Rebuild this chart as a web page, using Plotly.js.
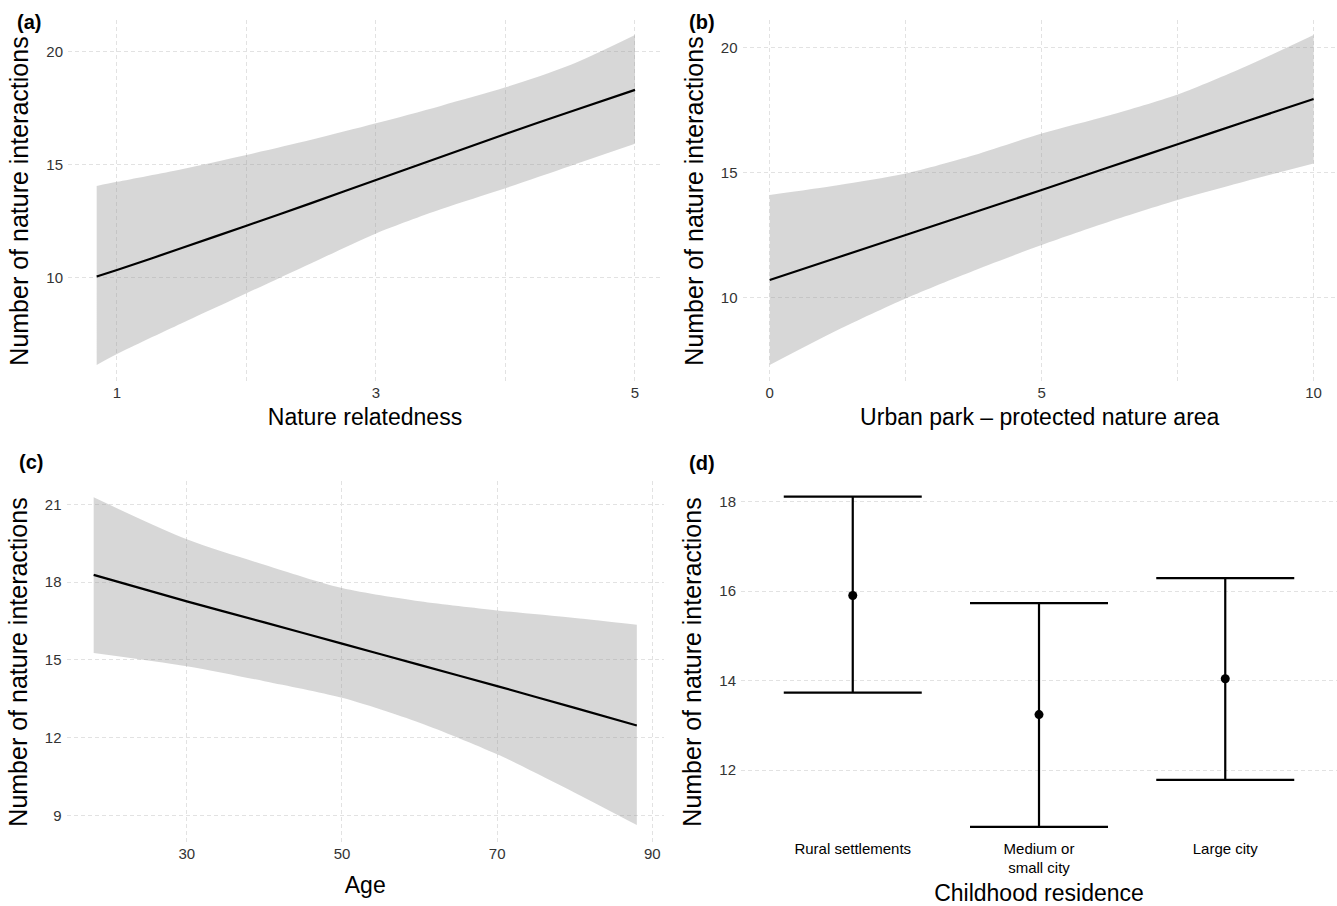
<!DOCTYPE html>
<html>
<head>
<meta charset="utf-8">
<script src="https://cdn.plot.ly/plotly-3.0.1.min.js"></script>
<style>
  html, body { margin: 0; padding: 0; background: #ffffff; }
  #chart { width: 1337px; height: 906px; }
</style>
</head>
<body>
<div id="chart"></div>
<script>
// ---------- Data ----------
// (a) Nature relatedness
const natX     = [0.843, 1, 1.5, 2, 2.5, 3, 3.5, 4, 4.5, 5];
const natFit   = [10.05, 10.34, 11.31, 12.30, 13.30, 14.32, 15.34, 16.36, 17.34, 18.31];
const natUpper = [14.06, 14.24, 14.80, 15.43, 16.10, 16.83, 17.60, 18.42, 19.41, 20.74];
const natLower = [6.14, 6.62, 7.98, 9.31, 10.64, 11.96, 13.03, 13.96, 14.94, 15.92];

// (b) Urban park - protected nature area
const parkX     = [0, 1.25, 2.5, 3.75, 5, 6.25, 7.5, 8.75, 10];
const parkFit   = [10.71, 11.61, 12.51, 13.41, 14.31, 15.23, 16.14, 17.05, 17.95];
const parkUpper = [14.11, 14.50, 14.97, 15.70, 16.57, 17.30, 18.13, 19.25, 20.51];
const parkLower = [7.31, 8.71, 9.97, 11.08, 12.11, 13.05, 13.91, 14.66, 15.37];

// (c) Age
const ageX     = [18, 30, 40, 50, 60, 70, 80, 88];
const ageFit   = [18.28, 17.26, 16.45, 15.63, 14.81, 13.99, 13.15, 12.47];
const ageUpper = [21.27, 19.65, 18.67, 17.77, 17.26, 16.91, 16.62, 16.36];
const ageLower = [15.27, 14.76, 14.18, 13.54, 12.58, 11.36, 9.88, 8.63];

// (d) Childhood residence
const resCategories = ["Rural settlements", "Medium or<br>small city", "Large city"];
const resMean  = [15.90, 13.24, 14.04];
const resUpper = [18.11, 15.73, 16.29];
const resLower = [13.73, 10.73, 11.78];

// Tick labels
const natTicks  = [1, 2, 3, 4, 5];
const natTickText = ["1", "", "3", "", "5"];
const parkTicks = [0, 2.5, 5, 7.5, 10];
const parkTickText = ["0", "", "5", "", "10"];
const ageTicks  = [30, 50, 70, 90];
const yTicksA = [10, 15, 20];
const yTicksB = [10, 15, 20];
const yTicksC = [9, 12, 15, 18, 21];
const yTicksD = [12, 14, 16, 18];

// ---------- Styles ----------
const FONT = "Liberation Sans, Arial, Helvetica, sans-serif";
const bandFill = "rgba(150,150,150,0.38)";
const gridColor = "#e2e2e2";
const gridDash = "4px,3px";
const tickFont = {family: FONT, size: 15, color: "#333333"};
const yTitle = "Number of nature interactions";

function band(x, lo, hi, xa, ya) {
  return [
    {x: x, y: lo, xaxis: xa, yaxis: ya, type: "scatter", mode: "lines",
     line: {width: 0, color: "rgba(0,0,0,0)", shape: "spline", smoothing: 0.8},
     hoverinfo: "skip", showlegend: false},
    {x: x, y: hi, xaxis: xa, yaxis: ya, type: "scatter", mode: "lines",
     line: {width: 0, color: "rgba(0,0,0,0)", shape: "spline", smoothing: 0.8},
     fill: "tonexty", fillcolor: bandFill, hoverinfo: "skip", showlegend: false}
  ];
}
function fitLine(x, y, xa, ya) {
  return {x: x, y: y, xaxis: xa, yaxis: ya, type: "scatter", mode: "lines",
          line: {color: "#000000", width: 2.2, shape: "spline", smoothing: 0.8}, showlegend: false};
}

const traces = [
  ...band(natX, natLower, natUpper, "x", "y"),
  fitLine(natX, natFit, "x", "y"),
  ...band(parkX, parkLower, parkUpper, "x2", "y2"),
  fitLine(parkX, parkFit, "x2", "y2"),
  ...band(ageX, ageLower, ageUpper, "x3", "y3"),
  fitLine(ageX, ageFit, "x3", "y3"),
  {
    x: resCategories, y: resMean, xaxis: "x4", yaxis: "y4", type: "scatter", mode: "markers",
    marker: {color: "#000000", size: 9},
    error_y: {
      type: "data", symmetric: false,
      array: resUpper.map((u, i) => u - resMean[i]),
      arrayminus: resLower.map((l, i) => resMean[i] - l),
      color: "#000000", thickness: 2.2, width: 69
    },
    showlegend: false
  }
];

function xAxis(domain, range, title, standoff, extra) {
  return Object.assign({
    domain: domain, range: range, showgrid: true, gridcolor: gridColor, gridwidth: 1,
    griddash: gridDash, zeroline: false, showline: false, ticks: "", tickfont: tickFont,
    ticklabelstandoff: 0, fixedrange: true,
    title: {text: title, font: {family: FONT, size: 23, color: "#000000"}, standoff: standoff}
  }, extra || {});
}
function yAxis(domain, range, tickvals, extra) {
  return Object.assign({
    domain: domain, range: range, tickvals: tickvals, showgrid: true, gridcolor: gridColor,
    gridwidth: 1, griddash: gridDash, zeroline: false, showline: false, ticks: "",
    tickfont: tickFont, ticklabelstandoff: 4, fixedrange: true,
    title: {text: yTitle, font: {family: FONT, size: 25, color: "#000000"}, standoff: 10}
  }, extra || {});
}

const layout = {
  width: 1337, height: 906,
  margin: {l: 0, r: 0, t: 0, b: 0},
  paper_bgcolor: "#ffffff", plot_bgcolor: "#ffffff",
  font: {family: FONT, color: "#000000"},
  showlegend: false,
  xaxis:  xAxis([0.05086, 0.49514], [0.6216, 5.2085], "Nature relatedness", 8,
                {tickvals: natTicks, ticktext: natTickText, anchor: "y"}),
  yaxis:  yAxis([0.57837, 0.97792], [5.385, 21.40], yTicksA, {anchor: "x"}),
  xaxis2: xAxis([0.55535, 1.0], [-0.5, 10.43], "Urban park – protected nature area", 8,
                {tickvals: parkTicks, ticktext: parkTickText, anchor: "y2"}),
  yaxis2: yAxis([0.57837, 0.97792], [6.63, 21.11], yTicksB, {anchor: "x2"}),
  xaxis3: xAxis([0.04974, 0.49663], [14.5, 91.5], "Age", 15,
                {tickvals: ageTicks, anchor: "y3"}),
  yaxis3: yAxis([0.06954, 0.46909], [7.94, 21.90], yTicksC, {anchor: "x3"}),
  xaxis4: xAxis([0.55423, 1.0], [-0.6, 2.6], "Childhood residence", 12,
                {type: "category", showgrid: false, anchor: "y4", ticklabelstandoff: -5,
                 tickfont: {family: FONT, size: 15, color: "#000000"}}),
  yaxis4: yAxis([0.06954, 0.46909], [10.37, 18.46], yTicksD, {anchor: "x4"}),
  annotations: [
    {text: "<b>(a)</b>", xref: "paper", yref: "paper", x: 15/1337, y: 1 - 22.5/906,
     xanchor: "left", yanchor: "middle", showarrow: false, font: {family: FONT, size: 20, color: "#000"}},
    {text: "<b>(b)</b>", xref: "paper", yref: "paper", x: 687/1337, y: 1 - 22.5/906,
     xanchor: "left", yanchor: "middle", showarrow: false, font: {family: FONT, size: 20, color: "#000"}},
    {text: "<b>(c)</b>", xref: "paper", yref: "paper", x: 17/1337, y: 1 - 462/906,
     xanchor: "left", yanchor: "middle", showarrow: false, font: {family: FONT, size: 20, color: "#000"}},
    {text: "<b>(d)</b>", xref: "paper", yref: "paper", x: 687/1337, y: 1 - 462.5/906,
     xanchor: "left", yanchor: "middle", showarrow: false, font: {family: FONT, size: 20, color: "#000"}}
  ]
};

Plotly.newPlot("chart", traces, layout, {staticPlot: true, displayModeBar: false});
</script>
</body>
</html>
